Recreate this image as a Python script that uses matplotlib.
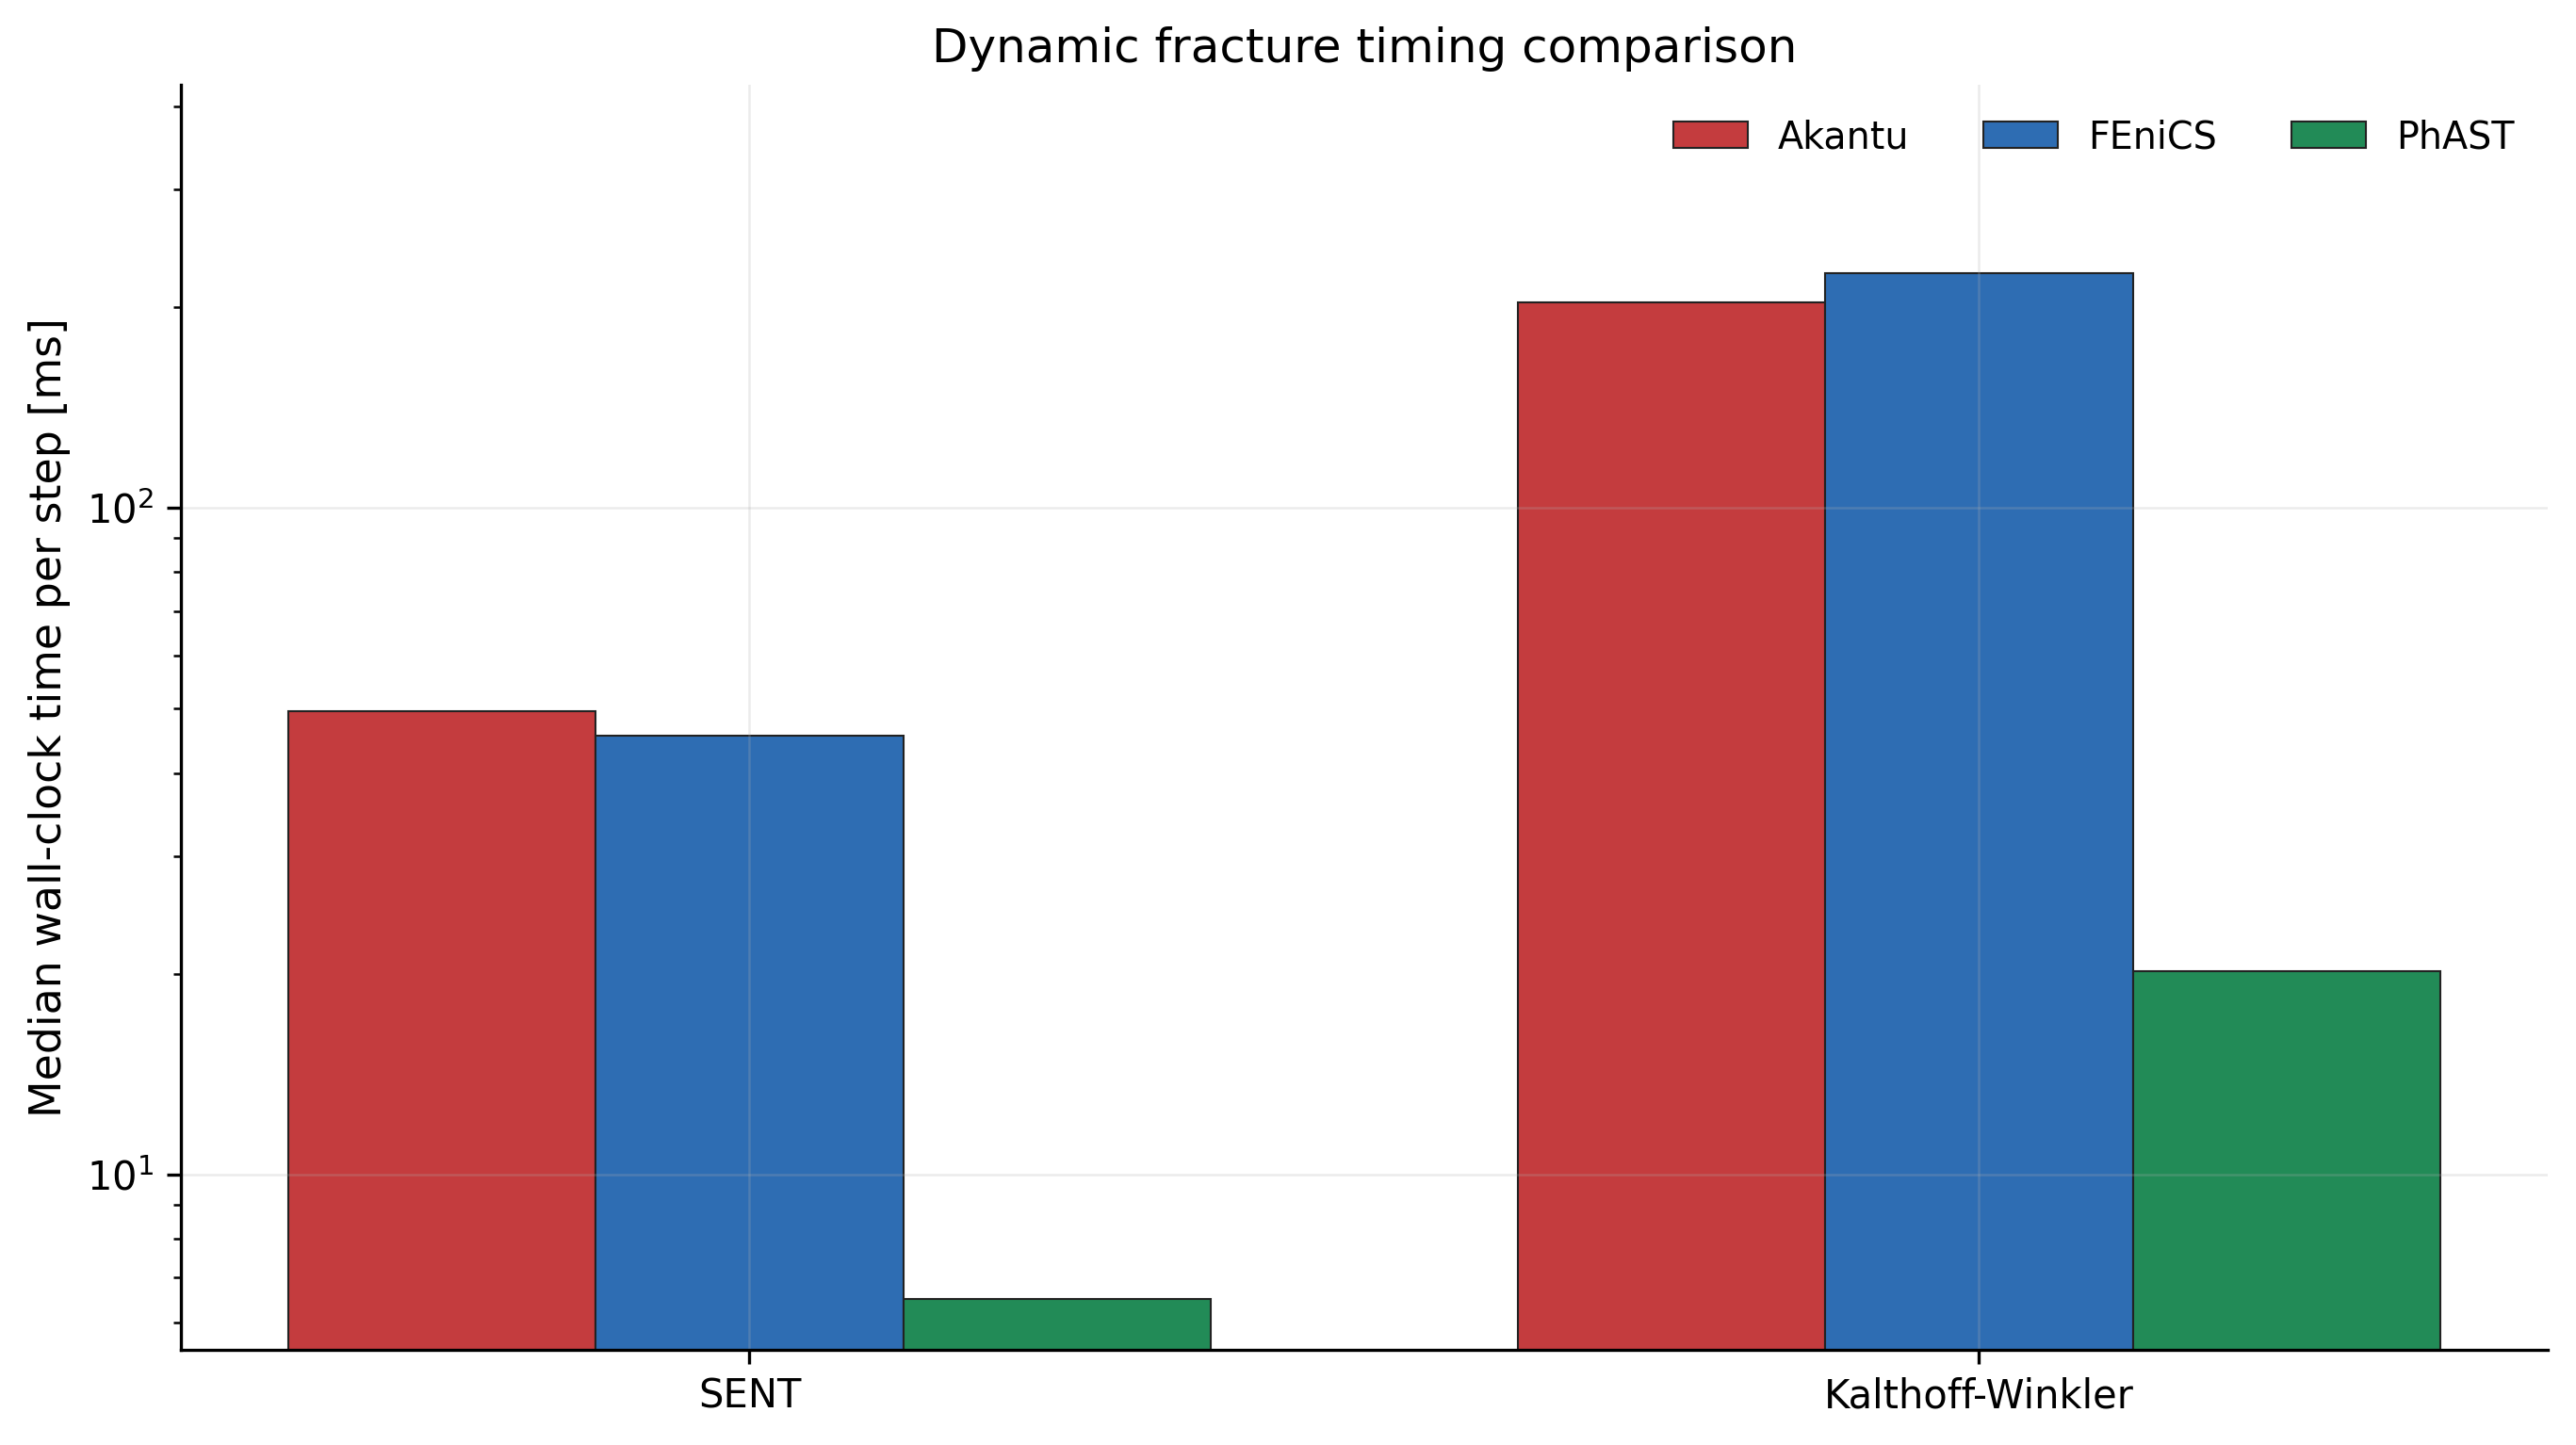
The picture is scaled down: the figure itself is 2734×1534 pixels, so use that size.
import numpy as np
import matplotlib
matplotlib.use('Agg')
import matplotlib.pyplot as plt

# data (ms per step)
cases = ['SENT', 'Kalthoff-Winkler']
codes = ['Akantu', 'FEniCS', 'PhAST']
akantu = [49.5, 203.0]
fenics = [45.5, 225.0]
phast = [6.5, 20.2]
colors = ['#c43c3e', '#2e6db3', '#228b57']


def main():
    values = [akantu, fenics, phast]
    x = np.arange(len(cases))
    width = 0.25

    fig = plt.figure(figsize=(9.1135, 5.1135), dpi=300)
    ax = fig.add_subplot(111)
    for i, (name, vals) in enumerate(zip(codes, values)):
        ax.bar(x + (i - 1) * width, vals, width, label=name, color=colors[i],
               edgecolor='#222222', linewidth=0.5)

    ax.set_yscale('log')
    ax.set_ylim(5.46, 430)
    ax.set_xticks(x)
    ax.set_xticklabels(cases, fontsize=10)
    ax.tick_params(axis='y', labelsize=10)
    ax.set_ylabel('Median wall-clock time per step [ms]', fontsize=11)
    ax.set_title('Dynamic fracture timing comparison', fontsize=12)
    ax.grid(True, which='major', color='#b0b0b0', alpha=0.25, linewidth=0.6)
    ax.spines['top'].set_visible(False)
    ax.spines['right'].set_visible(False)
    ax.legend(loc='upper right', ncol=3, frameon=False, fontsize=9.5)

    fig.subplots_adjust(left=0.0702, right=0.989, top=0.941, bottom=0.066)
    fig.savefig('out.png', dpi=300)


if __name__ == '__main__':
    main()
